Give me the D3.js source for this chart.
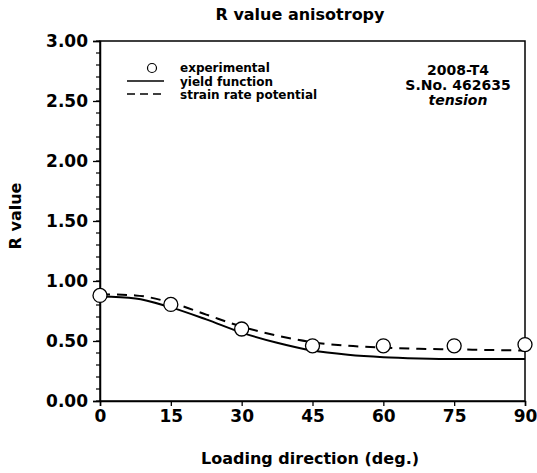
<!DOCTYPE html>
<html>
<head>
<meta charset="utf-8">
<script src="https://cdn.jsdelivr.net/npm/d3@7"></script>
<style>
  body { margin: 0; background: #fff; }
  text { font-family: "DejaVu Sans", "Liberation Sans", sans-serif; font-weight: bold; fill: #000; }
</style>
</head>
<body>
<div id="chart"></div>
<script>
// chart values
var angles = [0, 15, 30, 45, 60, 75, 90];
var experimental = [0.88, 0.805, 0.60, 0.46, 0.46, 0.46, 0.47];

var curveAngles = [0, 7.5, 15, 22.5, 30, 37.5, 45, 52.5, 60, 67.5, 75, 82.5, 90];
var yieldFunction = [0.87, 0.855, 0.78, 0.68, 0.57, 0.485, 0.42, 0.385, 0.365, 0.355, 0.35, 0.35, 0.35];
var strainRate = [0.89, 0.88, 0.82, 0.72, 0.62, 0.545, 0.49, 0.46, 0.445, 0.435, 0.43, 0.425, 0.42];

var xTicks = [0, 15, 30, 45, 60, 75, 90];
var yTicks = [0, 0.5, 1, 1.5, 2, 2.5, 3];
var yMinor = d3.range(0, 31).map(function (i) { return i / 10; });

var legendItems = ["experimental", "yield function", "strain rate potential"];
var notes = ["2008-T4", "S.No. 462635", "tension"];

var W = 537, H = 473;
var margin = { top: 41, right: 12, bottom: 72, left: 100 };
var w = W - margin.left - margin.right;
var h = H - margin.top - margin.bottom;

var svg = d3.select("#chart").append("svg")
  .attr("width", W).attr("height", H);

var g = svg.append("g")
  .attr("transform", "translate(" + margin.left + "," + margin.top + ")");

var x = d3.scaleLinear().domain([0, 90]).range([0, w]);
var y = d3.scaleLinear().domain([0, 3]).range([h, 0]);

// frame
g.append("rect")
  .attr("width", w).attr("height", h)
  .attr("fill", "none").attr("stroke", "#000").attr("stroke-width", 1.5);

// minor y ticks
g.append("g").attr("class", "y-minor")
  .selectAll("line")
  .data(yMinor)
  .enter().append("line")
  .attr("x1", -4).attr("x2", 0)
  .attr("y1", function (d) { return y(d); })
  .attr("y2", function (d) { return y(d); })
  .attr("stroke", "#000").attr("stroke-width", 1.2);

// y axis
var yAxis = g.append("g").attr("id", "y-axis")
  .call(d3.axisLeft(y).tickValues(yTicks).tickSize(7).tickPadding(5).tickFormat(d3.format(".2f")));
yAxis.select(".domain").attr("stroke-width", 1.5);
yAxis.selectAll("line").attr("stroke-width", 1.3);
yAxis.selectAll("text")
  .style("font-size", "17px");

// x axis
var xAxis = g.append("g").attr("id", "x-axis")
  .attr("transform", "translate(0," + h + ")")
  .call(d3.axisBottom(x).tickValues(xTicks).tickSize(5).tickPadding(4).tickFormat(d3.format("d")));
xAxis.select(".domain").attr("stroke-width", 1.5);
xAxis.selectAll("line").attr("stroke-width", 1.3);
xAxis.selectAll("text")
  .style("font-size", "17px");
yAxis.attr("font-family", null);
xAxis.attr("font-family", null);

// curves
var line = function (ys) {
  return d3.line()
    .x(function (d, i) { return x(curveAngles[i]); })
    .y(function (d) { return y(d); })
    .curve(d3.curveMonotoneX)(ys);
};

g.append("path")
  .attr("d", line(yieldFunction))
  .attr("fill", "none").attr("stroke", "#000").attr("stroke-width", 2);

g.append("path")
  .attr("d", line(strainRate))
  .attr("fill", "none").attr("stroke", "#000").attr("stroke-width", 2)
  .attr("stroke-dasharray", "10,7");

// experimental points
g.selectAll(".dot")
  .data(experimental)
  .enter().append("circle")
  .attr("class", "dot")
  .attr("cx", function (d, i) { return x(angles[i]); })
  .attr("cy", function (d) { return y(d); })
  .attr("r", 7)
  .attr("fill", "#fff").attr("stroke", "#000").attr("stroke-width", 1.3);

// legend
var legend = svg.append("g").attr("class", "legend");
legend.append("circle")
  .attr("cx", 152).attr("cy", 68).attr("r", 4.5)
  .attr("fill", "#fff").attr("stroke", "#000").attr("stroke-width", 1.2);
legend.append("line")
  .attr("x1", 127).attr("x2", 164).attr("y1", 81).attr("y2", 81)
  .attr("stroke", "#000").attr("stroke-width", 1.5);
legend.append("line")
  .attr("x1", 127).attr("x2", 164).attr("y1", 94).attr("y2", 94)
  .attr("stroke", "#000").attr("stroke-width", 1.5)
  .attr("stroke-dasharray", "8,5");
legend.selectAll("text")
  .data(legendItems)
  .enter().append("text")
  .attr("x", 180)
  .attr("y", function (d, i) { return 72 + i * 13.5; })
  .style("font-size", "12px")
  .text(function (d) { return d; });

// sample notes
svg.selectAll(".note")
  .data(notes)
  .enter().append("text")
  .attr("class", "note")
  .attr("x", 458)
  .attr("y", function (d, i) { return 75 + i * 15; })
  .attr("text-anchor", "middle")
  .style("font-size", "14px")
  .style("font-style", function (d, i) { return i == 2 ? "italic" : "normal"; })
  .text(function (d) { return d; });

// titles
svg.append("text")
  .attr("x", 300).attr("y", 20)
  .attr("text-anchor", "middle")
  .style("font-size", "16px")
  .text("R value anisotropy");

svg.append("text")
  .attr("x", 310).attr("y", 464)
  .attr("text-anchor", "middle")
  .style("font-size", "16px")
  .text("Loading direction (deg.)");

svg.append("text")
  .attr("transform", "translate(21,216) rotate(-90)")
  .attr("text-anchor", "middle")
  .style("font-size", "16px")
  .text("R value");
</script>
</body>
</html>
